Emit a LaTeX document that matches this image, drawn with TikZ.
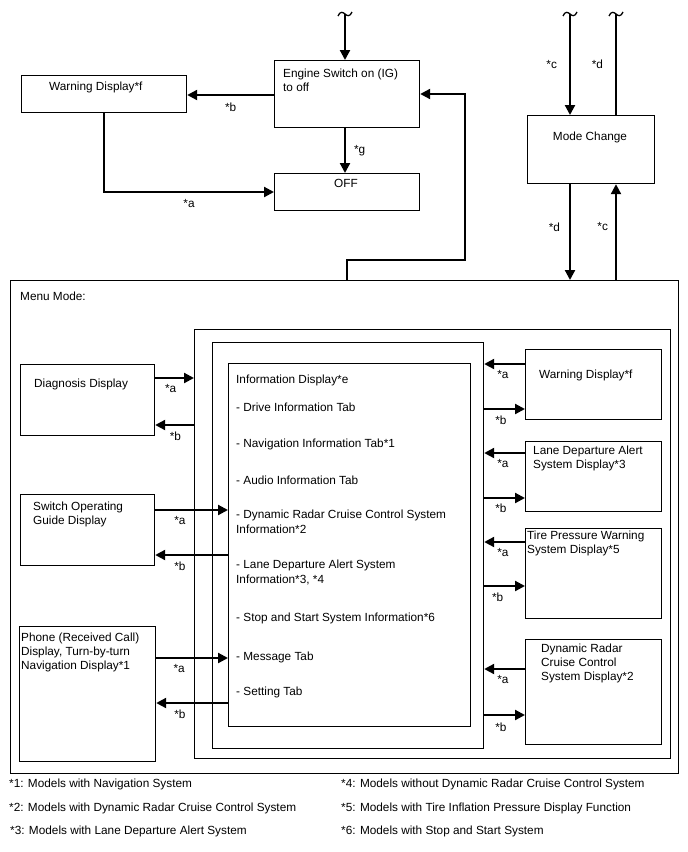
\documentclass[tikz,border=0pt]{standalone}
\usepackage{fontspec}
\setmainfont{Liberation Sans}
\usetikzlibrary{positioning, arrows.meta}

\begin{document}
\begin{tikzpicture}[x=1pt, y=-1pt, >={Triangle[length=10pt, width=10pt]},
    box/.style={draw, line width=1.2pt, inner sep=0pt, anchor=north west},
    txt/.style={inner sep=0pt, anchor=north west, align=left, font=\fontsize{11.8}{14}\selectfont},
    lbl/.style={inner sep=0pt, font=\fontsize{11.8}{14}\selectfont},
    brk/.style={line width=1.3pt},
    arr/.style={->, line width=2.2pt},
    wire/.style={line width=2.2pt}]
    \useasboundingbox (0,0) rectangle (688,852);

    % Top boxes
    \node (eng) [box, minimum width=145pt, minimum height=67pt] at (274,60) {};
    \node (engT) [txt] at (283,68.5) {Engine Switch on (IG)\\to off};
    \node (warnT) [box, minimum width=165pt, minimum height=37pt] at (21,75) {};
    \node (warnTT) [txt] at (49,81.5) {Warning Display*f};
    \node (off) [box, minimum width=145pt, minimum height=37pt] at (274,173) {};
    \node (offT) [lbl] at (346,183) {OFF};
    \node (mode) [box, minimum width=127pt, minimum height=68pt] at (527,115) {};
    \node (modeT) [lbl] at (590,137) {Mode Change};

    % Break marks
    \coordinate (t1) at (345,14);
    \coordinate (t2) at (570,14);
    \coordinate (t3) at (616,14);
    \foreach \t in {t1, t2, t3}
        \draw[brk] ([shift={(-7,2)}]\t) .. controls ([shift={(-5,-3)}]\t) and ([shift={(-2,-2)}]\t) .. (\t)
            .. controls ([shift={(2,2)}]\t) and ([shift={(5,3)}]\t) .. ([shift={(7,-2)}]\t);

    % Menu mode frames
    \node (menu) [box, minimum width=668pt, minimum height=493pt] at (10,280) {};
    \node (menuT) [txt] at (20,291.5) {Menu Mode:};
    \node (outer) [box, minimum width=476pt, minimum height=429pt] at (194,329) {};
    \node (mid) [box, minimum width=271pt, minimum height=406pt] at (212,342) {};
    \node (info) [box, minimum width=242pt, minimum height=363pt] at (228,363) {};

    % Information display
    \node (i0) [txt] at (236,374.5) {Information Display*e};
    \node (i1) [txt] at (236,402.5) {- Drive Information Tab};
    \node (i2) [txt] at (236,438.5) {- Navigation Information Tab*1};
    \node (i3) [txt] at (236,475.5) {- Audio Information Tab};
    \node (i4) [txt] at (236,509.5) {- Dynamic Radar Cruise Control System};
    \node (i4b) [txt] at (236,524.5) {Information*2};
    \node (i5) [txt] at (236,559.5) {- Lane Departure Alert System};
    \node (i5b) [txt] at (236,574.5) {Information*3, *4};
    \node (i6) [txt] at (236,612.5) {- Stop and Start System Information*6};
    \node (i7) [txt] at (236,651.5) {- Message Tab};
    \node (i8) [txt] at (236,686.5) {- Setting Tab};

    % Left boxes
    \node (diag) [box, minimum width=134pt, minimum height=71pt] at (20,364) {};
    \node (diagT) [txt] at (34,378.5) {Diagnosis Display};
    \node (sw) [box, minimum width=134pt, minimum height=71pt] at (20,494) {};
    \node (swT) [txt] at (33,501.5) {Switch Operating\\Guide Display};
    \node (phone) [box, minimum width=136pt, minimum height=135pt] at (19,626) {};
    \node (phoneT) [txt] at (21,632.5) {Phone (Received Call)\\Display, Turn-by-turn\\Navigation Display*1};

    % Right boxes
    \node (warnR) [box, minimum width=136pt, minimum height=70pt] at (525,349) {};
    \node (warnRT) [txt] at (539,369.5) {Warning Display*f};
    \node (lane) [box, minimum width=136pt, minimum height=70pt] at (525,441) {};
    \node (laneT) [txt] at (533,445.5) {Lane Departure Alert\\System Display*3};
    \node (tire) [box, minimum width=136pt, minimum height=90pt] at (525,528) {};
    \node (tireT) [txt] at (527,530.5) {Tire Pressure Warning\\System Display*5};
    \node (drcc) [box, minimum width=136pt, minimum height=105pt] at (525,639) {};
    \node (drccT) [txt] at (541,643.5) {Dynamic Radar\\Cruise Control\\System Display*2};

    % Footnotes
    \node (n1) [txt] at (9,778.5) {*1: Models with Navigation System};
    \node (n2) [txt] at (9,802.5) {*2: Models with Dynamic Radar Cruise Control System};
    \node (n3) [txt] at (10,825.5) {*3: Models with Lane Departure Alert System};
    \node (n4) [txt] at (341,778.5) {*4: Models without Dynamic Radar Cruise Control System};
    \node (n5) [txt] at (341,802.5) {*5: Models with Tire Inflation Pressure Display Function};
    \node (n6) [txt] at (341,825.5) {*6: Models with Stop and Start System};

    % Arrows (top)
    \draw[arr] (t1) -- (t1 |- eng.north);
    \draw[arr] (eng.west |- 0,95) -- node[lbl, below=7pt] {*b} (warnT.east |- 0,95);
    \draw[arr] (eng.south -| t1) -- node[lbl, right=8pt] {*g} (off.north -| t1);
    \draw[arr] (warnT.south -| 104,0) |- node[lbl, pos=0.75, below=6pt] {*a} (off.west |- 0,192);
    \draw[arr] (menu.north -| 347,0) |- (465,260) |- (eng.east |- 0,94);
    \draw[arr] (t2) -- node[lbl, left=12pt] {*c} (t2 |- mode.north);
    \draw[wire] (mode.north -| t3) -- node[lbl, left=12pt] {*d} (t3);
    \draw[arr] (mode.south -| t2) -- node[lbl, pos=0.45, left=9pt] {*d} (menu.north -| t2);
    \draw[arr] (menu.north -| t3) -- node[lbl, pos=0.56, left=7pt] {*c} (mode.south -| t3);

    % Arrows (left)
    \draw[arr] (diag.east |- 0,378) -- node[lbl, pos=0.4, below=5pt] {*a} (outer.west |- 0,378);
    \draw[arr] (outer.west |- 0,425) -- node[lbl, pos=0.48, below=6pt] {*b} (diag.east |- 0,425);
    \draw[arr] (sw.east |- 0,510) -- node[lbl, pos=0.34, below=5pt] {*a} (info.west |- 0,510);
    \draw[arr] (info.west |- 0,555) -- node[lbl, pos=0.66, below=6pt] {*b} (sw.east |- 0,555);
    \draw[arr] (phone.east |- 0,658) -- node[lbl, pos=0.32, below=5pt] {*a} (info.west |- 0,658);
    \draw[arr] (info.west |- 0,703) -- node[lbl, pos=0.67, below=6pt] {*b} (phone.east |- 0,703);

    % Arrows (right)
    \draw[arr] (warnR.west |- 0,364) -- node[lbl, pos=0.54, below=5pt] {*a} (mid.east |- 0,364);
    \draw[arr] (mid.east |- 0,409) -- node[lbl, pos=0.41, below=6pt] {*b} (warnR.west |- 0,409);
    \draw[arr] (lane.west |- 0,453) -- node[lbl, pos=0.54, below=5pt] {*a} (mid.east |- 0,453);
    \draw[arr] (mid.east |- 0,498) -- node[lbl, pos=0.41, below=5pt] {*b} (lane.west |- 0,498);
    \draw[arr] (tire.west |- 0,542) -- node[lbl, pos=0.54, below=5pt] {*a} (mid.east |- 0,542);
    \draw[arr] (mid.east |- 0,586) -- node[lbl, pos=0.33, below=6pt] {*b} (tire.west |- 0,586);
    \draw[arr] (drcc.west |- 0,669) -- node[lbl, pos=0.54, below=5pt] {*a} (mid.east |- 0,669);
    \draw[arr] (mid.east |- 0,715) -- node[lbl, pos=0.41, below=7pt] {*b} (drcc.west |- 0,715);
\end{tikzpicture}
\end{document}
